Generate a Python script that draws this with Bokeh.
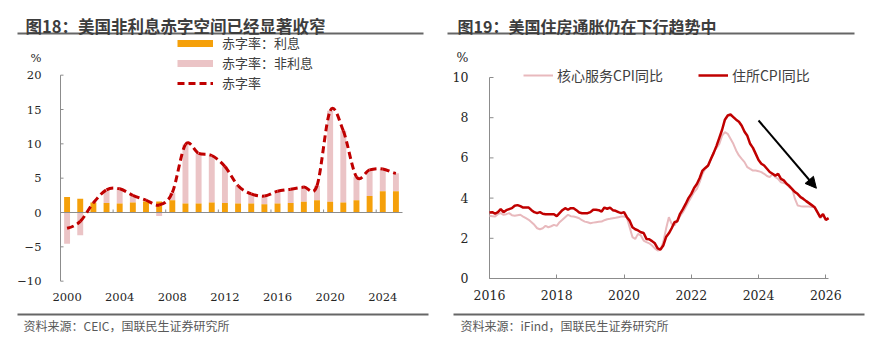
import numpy as np
import pandas as pd
from bokeh.plotting import figure
from bokeh.models import (Range1d, FixedTicker, Legend, LegendItem, LinearAxis, Label,
                          Arrow, NormalHead, ColumnDataSource)
from bokeh.layouts import row
from bokeh.embed import file_html
from bokeh.resources import INLINE

# ---------------- data: chart 18 ----------------
years = list(range(2000, 2026))
interest = [2.25, 2.0, 1.45, 1.4, 1.3, 1.45, 1.6, 1.6, 1.8, 1.3, 1.3, 1.45, 1.4,
            1.3, 1.3, 1.2, 1.3, 1.4, 1.55, 1.8, 1.55, 1.45, 1.8, 2.4, 3.1, 3.1]
deficit = [-2.3, -1.3, 1.4, 3.3, 3.45, 2.5, 1.8, 1.1, 2.9, 9.9, 8.6, 8.3, 6.7,
           3.9, 2.7, 2.4, 3.1, 3.4, 3.7, 3.9, 14.8, 11.9, 5.2, 6.2, 6.35, 5.7]
x_label_years = [2000, 2004, 2008, 2012, 2016, 2020, 2024]
y_ticks_18 = [-10, -5, 0, 5, 10, 15, 20]

# ---------------- data: chart 19 ----------------
shelter = [
    3.28, 3.3, 3.22, 3.3, 3.45, 3.3, 3.4, 3.45, 3.5, 3.62, 3.65, 3.6,      # 2016
    3.53, 3.53, 3.53, 3.4, 3.3, 3.25, 3.3, 3.22, 3.2, 3.2, 3.2, 3.2,       # 2017
    3.1, 3.25, 3.4, 3.5, 3.42, 3.5, 3.5, 3.4, 3.28, 3.25, 3.25, 3.25,      # 2018
    3.3, 3.42, 3.42, 3.4, 3.33, 3.53, 3.47, 3.53, 3.4, 3.37, 3.3, 3.25,    # 2019
    3.3, 3.05, 2.88, 2.55, 2.45, 2.39, 2.3, 2.26, 1.97, 1.95, 1.86, 1.75,  # 2020
    1.5, 1.44, 1.64, 2.06, 2.25, 2.5, 2.8, 2.85, 3.22, 3.45, 3.71, 4.0,    # 2021
    4.21, 4.5, 4.7, 5.0, 5.37, 5.5, 5.62, 5.95, 6.25, 6.6, 7.0, 7.4,       # 2022
    7.9, 8.11, 8.16, 8.03, 7.9, 7.8, 7.6, 7.3, 7.1, 6.7, 6.5, 6.2,         # 2023
    5.9, 5.71, 5.62, 5.46, 5.3, 5.21, 5.12, 5.21, 4.96, 4.88, 4.71, 4.6,   # 2024
    4.45, 4.3, 4.2, 4.05, 3.96, 3.85, 3.75, 3.65, 3.55, 3.3, 3.05, 3.2,    # 2025
    2.92, 3.0,                                                             # 2026
]
core_services = [
    3.12, 3.1, 3.08, 3.2, 3.25, 3.17, 3.2, 3.25, 3.15, 3.12, 3.15, 3.17,   # 2016
    3.08, 3.0, 2.92, 2.8, 2.67, 2.5, 2.45, 2.5, 2.62, 2.55, 2.6, 2.67,     # 2017
    2.62, 2.8, 2.92, 3.05, 3.17, 3.1, 3.08, 3.05, 3.0, 2.9, 2.83, 2.8,     # 2018
    2.75, 2.78, 2.8, 2.82, 2.83, 2.9, 2.95, 2.97, 3.0, 3.02, 3.05, 3.08,   # 2019
    3.08, 3.05, 2.55, 2.06, 1.97, 2.22, 2.14, 1.89, 1.81, 1.75, 1.64, 1.5, # 2020
    1.39, 1.43, 1.81, 2.47, 3.05, 2.72, 2.64, 2.88, 3.1, 3.3, 3.55, 3.8,   # 2021
    4.05, 4.3, 4.46, 4.79, 5.21, 5.46, 5.6, 5.95, 6.29, 6.5, 6.7, 7.11,    # 2022
    7.28, 7.2, 6.95, 6.7, 6.37, 6.12, 5.95, 5.79, 5.54, 5.45, 5.37, 5.37,  # 2023
    5.34, 5.29, 5.21, 5.1, 5.04, 5.21, 5.04, 4.95, 4.79, 4.75, 4.71, 4.55, # 2024
    4.46, 3.96, 3.63, 3.6, 3.58, 3.58, 3.58, 3.56, 3.55, 3.3, 3.0, 3.15,   # 2025
    2.9, 2.98,                                                             # 2026
]
x_ticks_19 = [2016, 2018, 2020, 2022, 2024, 2026]
y_ticks_19 = [0, 2, 4, 6, 8, 10]
arrow_start = (2024.0, 7.86)
arrow_end = (2025.72, 4.49)

TITLE18 = "图18：美国非利息赤字空间已经显著收窄"
TITLE19 = "图19：美国住房通胀仍在下行趋势中"
SOURCE18 = "资料来源：CEIC，国联民生证券研究所"
SOURCE19 = "资料来源：iFind，国联民生证券研究所"

ORANGE = "#F5A00A"
PINK = "#EBC4C6"
DARKRED = "#C00000"
LINEPINK = "#E8B9BD"
AXIS = "#8c8c8c"
RULE = "#666666"
TXT = "#262626"
SERIF = "DejaVu Serif"
CJK = "Noto Sans CJK SC"
NAN = [np.nan]

# ---------------- layout geometry (picture pixels) ----------------
W1, W2, H = 432, 435, 339
OX1, OX2, OY = 0, W1, 0
# chart 18 plot area: x 1999.5..2025.5 -> px 60..402 ; y -10..20 -> py 281..75
S1x, S1y = 342 / 26, 206 / 30
def X1(px): return 1999.5 + (px - 60) / S1x
def Y1(py): return (212 - py) / S1y
# chart 19 plot area: x 2016..2026.08 -> px 489..828 ; y 0..10 -> py 278..77
S2x, S2y = 339 / 10.08, 201 / 10
def X2(px): return 2016 + (px - 489) / S2x
def Y2(py): return (278 - py) / S2y


def base_figure(width, xr, yr):
    p = figure(width=width, height=H, x_range=Range1d(*xr), y_range=Range1d(*yr),
               title=None, output_backend="svg", toolbar_location=None,
               x_axis_location=None, y_axis_location=None,
               min_border_left=0, min_border_right=0, min_border_top=0, min_border_bottom=0)
    p.outline_line_color = None
    p.grid.visible = False
    return p


def frame_text(p, x, y, text, size, color, bold=False):
    p.add_layout(Label(x=x, y=y, text=text, text_align="left", text_baseline="middle",
                       text_font=CJK, text_font_size=size, text_color=color,
                       text_font_style="bold" if bold else "normal"))

# ================= chart 18 =================
p1 = base_figure(W1, (X1(OX1), X1(OX1 + W1)), (Y1(OY + H), Y1(OY)))

yrs = np.array(years, dtype=float)
intr = np.array(interest)
tot = np.array(deficit)
non = tot - intr
pink_bottom = np.where(non >= 0, intr, 0.0)
pink_top = np.where(non >= 0, intr + non, non)
src = ColumnDataSource(dict(x=yrs, interest=intr, pb=pink_bottom, pt=pink_top))
p1.vbar(x="x", bottom="pb", top="pt", width=0.45, source=src, fill_color=PINK, line_color=None)
p1.vbar(x="x", bottom=0, top="interest", width=0.45, source=src, fill_color=ORANGE, line_color=None)

X_LO, X_HI = years[0] - 0.5, years[-1] + 0.5
ytmin, ytmax = min(y_ticks_18), max(y_ticks_18)
p1.segment(x0=[X_LO], y0=[ytmin], x1=[X_LO], y1=[ytmax], line_color=AXIS, line_width=1)
p1.segment(x0=[X_LO] * len(y_ticks_18), y0=y_ticks_18, x1=[X_LO + 3 / S1x] * len(y_ticks_18),
           y1=y_ticks_18, line_color=AXIS, line_width=1)
p1.segment(x0=[X_LO], y0=[0], x1=[X_HI], y1=[0], line_color=AXIS, line_width=1)
bticks = [y - 0.5 for y in x_label_years[1:]]
p1.segment(x0=bticks, y0=[0] * len(bticks), x1=bticks, y1=[3 / S1y] * len(bticks),
           line_color=AXIS, line_width=1)

# smooth dashed line through the deficit values (Catmull-Rom -> cubic Bezier)
n = len(yrs)
xp = np.concatenate([[2 * yrs[0] - yrs[1]], yrs, [2 * yrs[-1] - yrs[-2]]])
yp = np.concatenate([[tot[0]], tot, [tot[-1]]])
bx0, by0, bx1, by1, c0x, c0y, c1x, c1y = [], [], [], [], [], [], [], []
for i in range(n - 1):
    j = i + 1
    bx0.append(xp[j]); by0.append(yp[j])
    bx1.append(xp[j + 1]); by1.append(yp[j + 1])
    c0x.append(xp[j] + (xp[j + 1] - xp[j - 1]) / 6); c0y.append(yp[j] + (yp[j + 1] - yp[j - 1]) / 6)
    c1x.append(xp[j + 1] - (xp[j + 2] - xp[j]) / 6); c1y.append(yp[j + 1] - (yp[j + 2] - yp[j]) / 6)
p1.bezier(x0=bx0, y0=by0, x1=bx1, y1=by1, cx0=c0x, cy0=c0y, cx1=c1x, cy1=c1y,
          line_color=DARKRED, line_width=3, line_dash="7 4")

lg_int = p1.line(x=NAN, y=NAN, line_color=ORANGE, line_width=7)
lg_non = p1.line(x=NAN, y=NAN, line_color=PINK, line_width=7)
lg_tot = p1.line(x=NAN, y=NAN, line_color=DARKRED, line_width=3, line_dash="7 4")
leg1 = Legend(items=[LegendItem(label="赤字率：利息", renderers=[lg_int]),
                     LegendItem(label="赤字率：非利息", renderers=[lg_non]),
                     LegendItem(label="赤字率", renderers=[lg_tot])],
              location=(177 - OX1, OY + H - 92), orientation="vertical",
              glyph_width=36, glyph_height=18, label_height=18, spacing=1, label_standoff=9,
              padding=0, margin=0, border_line_color=None, background_fill_alpha=0,
              label_text_font=CJK, label_text_font_size="13px", label_text_color="#404040")
p1.add_layout(leg1)

xa = LinearAxis(fixed_location=ytmin, ticker=FixedTicker(ticks=x_label_years),
                axis_line_color=None, major_tick_line_color=None, minor_tick_line_color=None,
                major_label_standoff=6, major_label_text_font=SERIF,
                major_label_text_font_size="11.5px", major_label_text_color=TXT)
p1.add_layout(xa, "below")

PCT18 = 22.5
ya = LinearAxis(fixed_location=X_LO, ticker=FixedTicker(ticks=y_ticks_18 + [PCT18]),
                major_label_overrides={PCT18: "%"},
                axis_line_color=None, major_tick_line_color=None, minor_tick_line_color=None,
                major_label_standoff=13, major_label_text_font=SERIF,
                major_label_text_font_size="11.5px", major_label_text_color=TXT)
p1.add_layout(ya, "left")

frame_text(p1, X1(25), Y1(25), TITLE18, "16.5px", "#3d3d3d", bold=True)
p1.segment(x0=[X1(17)], y0=[Y1(33)], x1=[X1(423)], y1=[Y1(33)], line_color=RULE, line_width=2)
p1.segment(x0=[X1(17)], y0=[Y1(314)], x1=[X1(428)], y1=[Y1(314)], line_color=RULE, line_width=2)
frame_text(p1, X1(23), Y1(325), SOURCE18, "12px", "#595959")

# ================= chart 19 =================
p2 = base_figure(W2, (X2(OX2), X2(OX2 + W2)), (Y2(OY + H), Y2(OY)))
X2_LO, X2_HI = 2016, 2026.08
y2min, y2max = min(y_ticks_19), max(y_ticks_19)
p2.segment(x0=[X2_LO], y0=[y2min], x1=[X2_LO], y1=[y2max], line_color=AXIS, line_width=1)
p2.segment(x0=[X2_LO] * len(y_ticks_19), y0=y_ticks_19, x1=[X2_LO + 4 / S2x] * len(y_ticks_19),
           y1=y_ticks_19, line_color=AXIS, line_width=1)
p2.segment(x0=[X2_LO], y0=[y2min], x1=[X2_HI], y1=[y2min], line_color=AXIS, line_width=1)

months = pd.date_range("2016-01-01", periods=len(shelter), freq="MS")
xm = months.year + (months.month - 1) / 12.0
r_core = p2.line(x=list(xm), y=core_services, line_color=LINEPINK, line_width=2)
r_sh = p2.line(x=list(xm), y=shelter, line_color=DARKRED, line_width=2.5)

p2.add_layout(Arrow(end=NormalHead(size=11, fill_color="black", line_color="black"),
                    x_start=arrow_start[0], y_start=arrow_start[1],
                    x_end=arrow_end[0], y_end=arrow_end[1],
                    line_color="black", line_width=2))

leg2 = Legend(items=[LegendItem(label="核心服务CPI同比", renderers=[r_core]),
                     LegendItem(label="住所CPI同比", renderers=[r_sh])],
              location=(523 - OX2, OY + H - 85), orientation="horizontal",
              glyph_width=30, glyph_height=20, label_height=20, spacing=35, label_standoff=4,
              padding=0, margin=0, border_line_color=None, background_fill_alpha=0,
              label_text_font=CJK, label_text_font_size="14px", label_text_color="#404040")
p2.add_layout(leg2)

xa2 = LinearAxis(fixed_location=y2min, ticker=FixedTicker(ticks=x_ticks_19),
                 axis_line_color=None, major_tick_line_color=AXIS, minor_tick_line_color=None,
                 major_tick_in=4, major_tick_out=0, major_label_standoff=11,
                 major_label_text_font=SERIF, major_label_text_font_size="12.5px",
                 major_label_text_color=TXT)
p2.add_layout(xa2, "below")

PCT19 = 11.0
ya2 = LinearAxis(fixed_location=X2_LO, ticker=FixedTicker(ticks=y_ticks_19 + [PCT19]),
                 major_label_overrides={PCT19: "%"},
                 axis_line_color=None, major_tick_line_color=None, minor_tick_line_color=None,
                 major_label_standoff=15, major_label_text_font=SERIF,
                 major_label_text_font_size="12.5px", major_label_text_color=TXT)
p2.add_layout(ya2, "left")

frame_text(p2, X2(457), Y2(25), TITLE19, "16px", "#3d3d3d", bold=True)
p2.segment(x0=[X2(447)], y0=[Y2(33)], x1=[X2(854)], y1=[Y2(33)], line_color=RULE, line_width=2)
p2.segment(x0=[X2(453)], y0=[Y2(314)], x1=[X2(864)], y1=[Y2(314)], line_color=RULE, line_width=2)
frame_text(p2, X2(460), Y2(325), SOURCE19, "12px", "#595959")

page = row(p1, p2, spacing=0)
open("out.html", "w").write(file_html(page, INLINE))
